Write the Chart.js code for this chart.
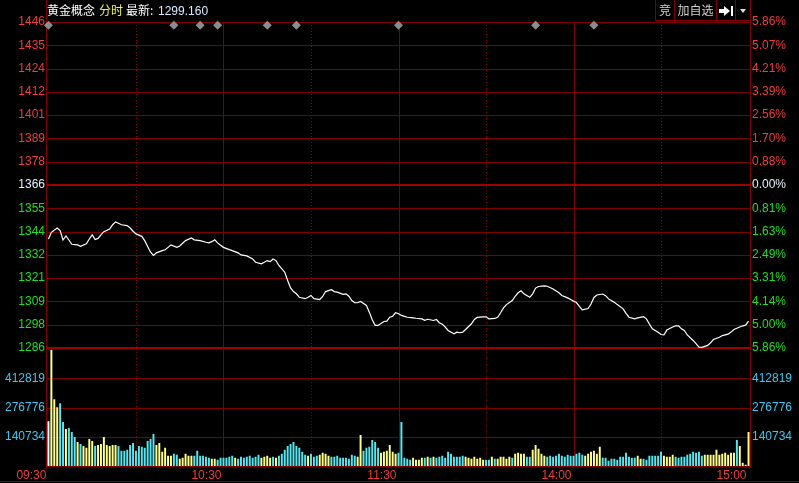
<!DOCTYPE html>
<html>
<head>
<meta charset="utf-8">
<script src="https://cdn.jsdelivr.net/npm/chart.js@4.4.1/dist/chart.umd.min.js"></script>
<style>
  body { margin: 0; background: #000; width: 799px; height: 483px; overflow: hidden; position: relative; }
  canvas { position: absolute; left: 0; }
  #price { top: 0; }
  #vol { top: 340px; }
  .t { position: absolute; white-space: nowrap; font-size: 12px; line-height: 12px; }
  .cjk { font-family: 'Noto Sans CJK SC', sans-serif; top: 4px; }
  .num { font-family: 'Liberation Sans', Arial, sans-serif; top: 5px; }
  .btn { position: absolute; top: 0; height: 21px; box-sizing: border-box; border: 1px solid #800000; border-top: none;
         color: #d0d0d0; font: 12px/20px 'Noto Sans CJK SC', sans-serif; text-align: center; }
</style>
</head>
<body>
<canvas id="price" width="799" height="360"></canvas>
<canvas id="vol" width="799" height="143"></canvas>

<div class="t cjk" style="left:47px;color:#ffffff">黄金概念</div>
<div class="t cjk" style="left:99px;color:#f0f050">分时</div>
<div class="t cjk" style="left:126px;color:#ffffff">最新:</div>
<div class="t num" style="left:158px;color:#d8ecff">1299.160</div>

<div class="btn" style="left:655px;width:20px">竞</div>
<div class="btn" style="left:674px;width:43px">加自选</div>
<div class="btn" style="left:716px;width:20px"></div>
<div class="btn" style="left:735px;width:16px"></div>
<div style="position:absolute;left:719px;top:9px;width:5px;height:4px;background:#fff"></div>
<div style="position:absolute;left:724px;top:6px;width:0;height:0;border-left:6px solid #fff;border-top:5px solid transparent;border-bottom:5px solid transparent"></div>
<div style="position:absolute;left:731px;top:6px;width:2px;height:10px;background:#fff"></div>
<div style="position:absolute;left:740px;top:9px;width:0;height:0;border-top:4px solid #ddd;border-left:3px solid transparent;border-right:3px solid transparent"></div>

<script>
// ---- data ----
const priceMin = 1286;
const priceMax = 1446;
const priceLabels = ['1286','1298','1309','1321','1332','1344','1355','1366','1378','1389','1401','1412','1424','1435','1446'];
const pctLabels = ['5.86%','5.00%','4.14%','3.31%','2.49%','1.63%','0.81%','0.00%','0.88%','1.70%','2.56%','3.39%','4.21%','5.07%','5.86%'];

const priceMinute = [
  0,1,3,4,5,6,7,8,10,11,
  13,14,15,16,17,18,19,21,22,23,
  24,25,27,28,29,30,32,33,34,35,
  36,37,39,40,41,42,44,45,46,47,
  49,50,52,54,55,56,57,58,59,60,
  62,63,65,66,68,70,71,73,74,75,
  76,77,78,79,81,82,83,84,85,86,
  88,89,90,91,93,94,95,97,98,99,
  101,102,103,104,105,106,107,109,110,111,
  112,113,115,116,117,118,119,120,121,123,
  125,126,128,129,130,132,133,134,135,136,
  137,139,140,141,142,143,145,146,147,149,
  150,151,153,154,155,156,157,159,160,161,
  162,163,165,166,167,168,170,171,173,175,
  176,178,179,180,181,182,183,185,186,187,
  188,190,191,192,194,195,197,198,199,201,
  202,204,205,206,207,209,210,211,212,214,
  215,216,217,218,219,221,222,223,224,226,
  227,228,230,231,233,234,235,237,238,239,
  240
];
const priceValue = [
  1339.5,1342.8,1344.9,1343.6,1339.0,1341.0,1339.0,1336.9,1336.6,1335.9,
  1337.1,1339.5,1341.5,1339.2,1339.8,1341.5,1343.1,1344.4,1346.5,1347.9,
  1347.2,1346.5,1346.1,1344.9,1343.3,1342.0,1340.8,1338.7,1335.8,1333.0,
  1331.4,1332.7,1333.8,1334.2,1335.4,1336.6,1335.4,1336.1,1337.4,1338.7,
  1340.0,1339.1,1338.7,1337.9,1337.6,1338.2,1339.1,1337.6,1336.4,1335.4,
  1334.3,1333.8,1332.7,1331.7,1331.2,1329.7,1328.1,1327.3,1328.1,1328.9,
  1328.4,1329.7,1328.9,1326.5,1323.2,1319.1,1315.5,1313.7,1312.6,1310.9,
  1310.2,1310.9,1311.8,1310.2,1309.8,1311.3,1313.7,1314.6,1313.7,1313.4,
  1312.3,1312.6,1311.4,1309.3,1308.2,1308.2,1308.8,1306.9,1303.6,1299.9,
  1297.1,1297.1,1299.0,1299.2,1301.1,1301.6,1303.3,1302.8,1302.0,1301.1,
  1300.8,1300.6,1300.3,1299.6,1300.1,1299.5,1300.0,1298.4,1297.7,1296.3,
  1294.6,1293.0,1293.8,1293.5,1293.8,1295.1,1297.9,1300.0,1301.0,1301.3,
  1301.3,1300.3,1300.5,1301.1,1303.3,1305.7,1307.3,1309.3,1311.4,1313.1,
  1314.1,1312.6,1310.9,1312.6,1315.4,1316.2,1316.5,1316.3,1315.0,1313.1,
  1311.8,1310.6,1309.8,1309.0,1308.3,1306.4,1304.7,1305.4,1307.6,1310.8,
  1312.0,1312.5,1311.7,1310.1,1308.4,1307.3,1305.2,1303.0,1301.1,1300.3,
  1300.8,1301.4,1300.3,1297.8,1295.4,1293.7,1292.6,1292.4,1294.8,1296.3,
  1296.9,1296.9,1295.4,1294.6,1292.4,1289.7,1288.1,1286.4,1286.3,1287.3,
  1288.6,1290.2,1291.3,1292.1,1292.8,1293.8,1295.1,1296.3,1296.9,1297.2,
  1299.2
];

// news markers (minute index)
const markerMinute = [0, 43, 52, 58, 75, 85, 120, 167, 187];

// volume per minute, 09:30 .. 15:00 (241 bars)
const volume = [
  210900,548300,314000,276500,295200,206200,173400,178100,159300,135900,
  112500,103100,93700,84300,126500,117200,93700,98400,103100,135900,
  98400,93700,98400,98400,93700,70300,70300,75000,98400,107800,
  70300,93700,89000,84300,117200,126500,150000,98400,107800,65600,
  84300,46900,46900,56200,51500,32800,37500,56200,46900,46900,
  46900,70300,46900,46900,42200,37500,32800,32800,28100,37500,
  37500,37500,42200,46900,37500,32800,42200,37500,42200,46900,
  37500,42200,51500,37500,42200,46900,37500,42200,37500,46900,
  56200,75000,93700,103100,112500,93700,84300,65600,51500,46900,
  56200,42200,46900,51500,60900,56200,46900,42200,42200,46900,
  37500,37500,37500,32800,51500,46900,42200,145300,70300,84300,
  89000,121800,112500,84300,60900,65600,70300,98400,65600,56200,
  60900,206200,37500,32800,28100,37500,28100,28100,37500,37500,
  42200,37500,42200,37500,42200,46900,37500,65600,56200,42200,
  42200,42200,46900,42200,37500,32800,42200,32800,37500,28100,
  28100,28100,42200,32800,32800,42200,42200,32800,42200,37500,
  56200,60900,56200,56200,42200,42200,75000,98400,79700,56200,
  46900,42200,46900,42200,46900,56200,46900,42200,51500,46900,
  46900,56200,60900,51500,46900,56200,65600,70300,56200,89000,
  37500,37500,23400,32800,32800,28100,42200,42200,60900,42200,
  37500,37500,46900,32800,32800,28100,46900,46900,46900,46900,
  65600,46900,42200,42200,51500,42200,37500,42200,42200,51500,
  56200,65600,60900,65600,46900,51500,51500,51500,51500,75000,
  51500,56200,60900,51500,60900,60900,121800,93700,14100,4700,
  159300
];
// direction of each minute: n = open, u = up (yellow), d = down (cyan)
const volDir = [
  'nuuudduddd', 'uduuuuduuu', 'uuuudddddd', 'ddddddduuu', 'uuudduuuuu',
  'dddddduudd', 'dddduddddd', 'ddduuuudud', 'dddddddddu', 'ddduuuuddd',
  'dddddduudd', 'dddduuuuuu', 'ddddduuuud', 'ududdddddd', 'ddduuuuuuu',
  'dduduuuuud', 'uuuudduuuu', 'uddddddddd', 'dddduuuuuu', 'dddddddddd',
  'dduudddddd', 'duuuuddddd', 'ddddduuuuu', 'uuuuuuduuu', 'u'
].join('').split('');

const timeMinute = [0, 60, 120, 180, 240];
const timeLabels = ['09:30', '10:30', '11:30', '14:00', '15:00'];
const volMax = 553000;
const volLabels = ['140734', '276776', '412819'];

// ---- styling ----
const FONT = { family: "'Liberation Sans', Arial, sans-serif", size: 12 };
const RED_TXT = '#f03c3c';
const GREEN_TXT = '#1ee01e';
const CYAN_TXT = '#3cc8f0';
const GRID = '#800000';
const GRID_BOLD = '#a00000';
const gridMinutes = [30, 60, 90, 120, 150, 180, 210];
const barColor = { n: '#ffffff', u: '#ffff8c', d: '#55e6f0' };

function drawVertical(chart, top, bottom) {
  const { ctx, scales: { x } } = chart;
  ctx.fillStyle = GRID;
  gridMinutes.forEach(m => {
    const px = Math.round(x.getPixelForValue(m));
    if (m % 60 === 0) {
      ctx.fillRect(px, top, 1, bottom - top);
    } else {
      for (let y = top; y < bottom; y += 3) ctx.fillRect(px, y, 1, 1);
    }
  });
}

const priceGrid = {
  id: 'priceGrid',
  beforeDatasetsDraw(chart) {
    const { ctx, chartArea: a, scales: { y } } = chart;
    ctx.save();
    drawVertical(chart, a.top, a.bottom);
    y.ticks.forEach((t, i) => {
      const py = Math.round(y.getPixelForValue(t.value));
      if (i === 0 || i === 7) {
        ctx.fillStyle = GRID_BOLD;
        ctx.fillRect(a.left - 1, py - 1, a.right - a.left + 2, 2);
      } else {
        ctx.fillStyle = GRID;
        ctx.fillRect(a.left - 1, py, a.right - a.left + 2, 1);
      }
    });
    ctx.fillStyle = GRID;
    ctx.fillRect(Math.round(a.left) - 1, 0, 1, chart.height);
    ctx.fillRect(Math.round(a.right), 0, 1, a.bottom);
    ctx.restore();
  }
};

const volGrid = {
  id: 'volGrid',
  beforeDatasetsDraw(chart) {
    const { ctx, chartArea: a, scales: { y } } = chart;
    ctx.save();
    drawVertical(chart, a.top, a.bottom);
    ctx.fillStyle = GRID;
    y.ticks.forEach(t => {
      const py = Math.round(y.getPixelForValue(t.value));
      ctx.fillRect(a.left - 1, py, a.right - a.left + 2, 1);
    });
    ctx.fillRect(a.left - 1, Math.round(a.bottom), a.right - a.left + 2, 1);
    ctx.fillRect(Math.round(a.left) - 1, 0, 1, a.bottom + 4);
    ctx.fillRect(Math.round(a.right), 0, 1, a.bottom + 2);
    ctx.fillRect(0, chart.height - 2, chart.width, 1);
    ctx.restore();
  }
};

function fixWidth(w) { return scale => { scale.width = w; }; }
const noGrid = { display: false, drawTicks: false };

const priceTickValues = priceLabels.map((_, i) => priceMin + i * (priceMax - priceMin) / (priceLabels.length - 1));
const priceColor = ctx => ctx.index === 7 ? '#e8f0ff' : (ctx.index < 7 ? GREEN_TXT : RED_TXT);

new Chart(document.getElementById('price'), {
  type: 'line',
  data: {
    datasets: [{
      data: priceMinute.map((m, i) => ({ x: m, y: priceValue[i] })),
      borderColor: '#ffffff',
      borderWidth: 1.2,
      pointRadius: 0,
      tension: 0,
      yAxisID: 'y'
    }, {
      type: 'scatter',
      data: markerMinute.map(m => ({ x: m, y: priceMax - 1.6 })),
      pointStyle: 'rectRot',
      pointRadius: 4.5,
      backgroundColor: '#8c8c8c',
      borderWidth: 0,
      clip: false,
      yAxisID: 'y'
    }]
  },
  options: {
    responsive: false,
    animation: false,
    events: [],
    layout: { padding: { top: 22, bottom: 12, left: 0, right: 0 } },
    plugins: { legend: { display: false }, tooltip: { enabled: false } },
    scales: {
      x: { type: 'linear', min: -0.5, max: 240.5, display: false },
      y: {
        position: 'left', min: priceMin, max: priceMax,
        afterBuildTicks: s => { s.ticks = priceTickValues.map(v => ({ value: v })); },
        afterFit: fixWidth(47),
        grid: noGrid, border: { display: false },
        ticks: { callback: (v, i) => priceLabels[i], color: priceColor, font: FONT, padding: 2 }
      },
      yR: {
        position: 'right', min: priceMin, max: priceMax,
        afterBuildTicks: s => { s.ticks = priceTickValues.map(v => ({ value: v })); },
        afterFit: fixWidth(49),
        grid: noGrid, border: { display: false },
        ticks: { callback: (v, i) => pctLabels[i], color: priceColor, font: FONT, padding: 2 }
      }
    }
  },
  plugins: [priceGrid]
});

const volTickValues = volLabels.map((_, i) => volMax * (i + 1) / 4);

new Chart(document.getElementById('vol'), {
  type: 'bar',
  data: {
    datasets: [{
      data: volume.map((v, i) => ({ x: i, y: v })),
      backgroundColor: volDir.map(d => barColor[d]),
      barThickness: 1.3,
      borderWidth: 0
    }]
  },
  options: {
    responsive: false,
    animation: false,
    events: [],
    layout: { padding: { top: 8, bottom: 0, left: 0, right: 0 } },
    plugins: { legend: { display: false }, tooltip: { enabled: false } },
    scales: {
      x: {
        type: 'linear', min: -0.5, max: 240.5, offset: false,
        afterBuildTicks: s => { s.ticks = timeMinute.map(v => ({ value: v })); },
        afterFit: s => { s.height = 17; },
        grid: noGrid, border: { display: false },
        ticks: { callback: (v, i) => timeLabels[i], color: RED_TXT, font: FONT, align: 'end',
                 autoSkip: false, maxRotation: 0, minRotation: 0, padding: 2, labelOffset: -2 }
      },
      y: {
        position: 'left', min: 0, max: volMax,
        afterBuildTicks: s => { s.ticks = volTickValues.map(v => ({ value: v })); },
        afterFit: fixWidth(47),
        grid: noGrid, border: { display: false },
        ticks: { callback: (v, i) => volLabels[i], color: CYAN_TXT, font: FONT, padding: 2 }
      },
      yR: {
        position: 'right', min: 0, max: volMax,
        afterBuildTicks: s => { s.ticks = volTickValues.map(v => ({ value: v })); },
        afterFit: fixWidth(49),
        grid: noGrid, border: { display: false },
        ticks: { callback: (v, i) => volLabels[i], color: CYAN_TXT, font: FONT, padding: 2 }
      }
    }
  },
  plugins: [volGrid]
});
</script>
</body>
</html>
